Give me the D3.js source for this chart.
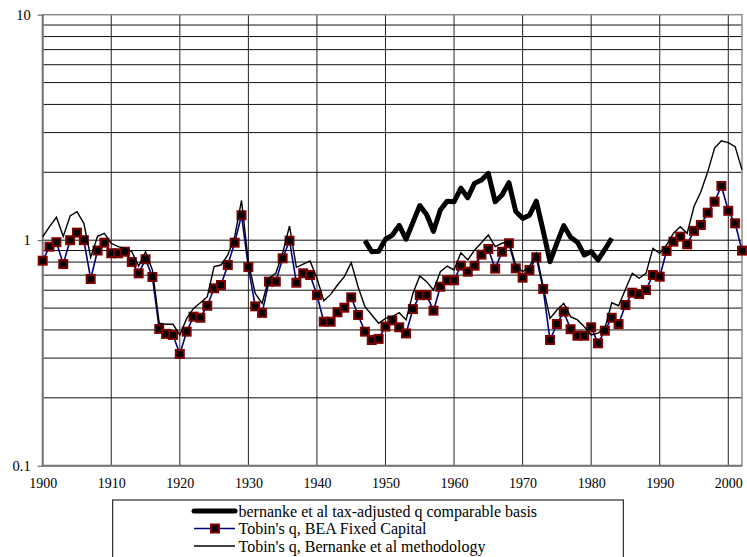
<!DOCTYPE html>
<html>
  <head>
    <meta charset="utf-8">
    <title>Tobin's q</title>
    <style media="screen">
    body{margin: 0; background: #fff}
    text {font-family: "Liberation Serif", "Times New Roman", serif; fill: #000}
    </style>
  </head>
  <body>

    <script src="https://d3js.org/d3.v7.min.js"></script>

    <script type="text/javascript">
      var w = 747, h = 557;

      // years 1900..2002
      var years = d3.range(1900, 2003);

      var beaQ = [
        0.811, 0.936, 0.98, 0.784, 1.0, 1.08, 1.0, 0.673, 0.90, 0.975,
        0.875, 0.875, 0.889, 0.80, 0.713, 0.823, 0.687, 0.404, 0.384, 0.38,
        0.313, 0.393, 0.458, 0.453, 0.512, 0.612, 0.633, 0.776, 0.975, 1.29,
        0.76, 0.509, 0.476, 0.655, 0.655, 0.831, 0.995, 0.648, 0.713, 0.701,
        0.571, 0.435, 0.435, 0.479, 0.502, 0.558, 0.466, 0.393, 0.361, 0.365,
        0.414, 0.441, 0.411, 0.386, 0.495, 0.571, 0.571, 0.487, 0.622, 0.664,
        0.664, 0.771, 0.725, 0.771, 0.863, 0.914, 0.748, 0.889, 0.969, 0.750,
        0.682, 0.738, 0.840, 0.608, 0.361, 0.425, 0.482, 0.403, 0.377, 0.377,
        0.411, 0.349, 0.397, 0.453, 0.425, 0.516, 0.585, 0.577, 0.601, 0.701,
        0.689, 0.896, 0.985, 1.037, 0.959, 1.10, 1.168, 1.324, 1.482, 1.74,
        1.35, 1.188, 0.899
      ];

      var bernQ = [
        1.036, 1.148, 1.263, 1.04, 1.28, 1.338, 1.188, 0.84, 1.04, 1.073,
        0.969, 0.936, 0.92, 0.889, 0.768, 0.889, 0.738, 0.428, 0.424, 0.424,
        0.38, 0.45, 0.498, 0.528, 0.561, 0.763, 0.776, 0.86, 1.036, 1.50,
        0.80, 0.581, 0.525, 0.678, 0.713, 0.875, 1.156, 0.758, 0.784, 0.809,
        0.678, 0.539, 0.575, 0.633, 0.689, 0.795, 0.622, 0.507, 0.466, 0.428,
        0.45, 0.458, 0.477, 0.443, 0.581, 0.694, 0.655, 0.601, 0.725, 0.768,
        0.738, 0.88, 0.817, 0.905, 0.975, 1.054, 0.936, 0.969, 0.985, 0.776,
        0.725, 0.763, 0.875, 0.622, 0.45, 0.49, 0.525, 0.458, 0.443, 0.413,
        0.38, 0.387, 0.407, 0.528, 0.512, 0.606, 0.713, 0.678, 0.713, 0.92,
        0.875, 0.952, 1.073, 1.148, 1.073, 1.41, 1.64, 2.01, 2.56, 2.76,
        2.71, 2.60, 2.05
      ];

      // tax-adjusted series, 1947..1983
      var taxYears = d3.range(1947, 1984);
      var taxQ = [
        0.995, 0.889, 0.893, 1.01, 1.054, 1.164, 1.01, 1.2, 1.425, 1.30,
        1.095, 1.36, 1.49, 1.48, 1.70, 1.544, 1.79, 1.85, 1.98, 1.48,
        1.586, 1.80, 1.34, 1.25, 1.29, 1.49, 1.10, 0.803, 0.97, 1.16,
        1.03, 0.98, 0.86, 0.89, 0.817, 0.91, 1.02
      ];

      var xTicks = d3.range(1900, 2001, 10);
      var yMajor = [0.1, 1, 10];
      var yLabels = ["0.1", "1", "10"];
      var yGrid = [0.2, 0.3, 0.4, 0.5, 0.6, 0.7, 0.8, 0.9, 1, 2, 3, 4, 5, 6, 7, 8, 9];

      var legendNames = [
        "bernanke et al tax-adjusted q comparable basis",
        "Tobin's q, BEA Fixed Capital",
        "Tobin's q, Bernanke et al methodology"
      ];

      var pLeft = 42.7, pRight = 742, pTop = 14.7, pBottom = 465.7;

      var x = d3.scaleLinear().domain([1900, 2002]).range([pLeft, pRight]);
      var y = d3.scaleLog().domain([0.1, 10]).range([pBottom, pTop]);

      var svg = d3.select('body').append('svg')
        .attr('width', w)
        .attr('height', h)

      svg.append('rect')
        .attr('x', pLeft).attr('y', pTop)
        .attr('width', pRight - pLeft).attr('height', pBottom - pTop)
        .attr('fill', '#fff')

      // grid
      svg.append('g').selectAll('line')
        .data(yGrid)
        .enter().append('line')
          .attr('x1', pLeft).attr('x2', pRight)
          .attr('y1', function(d){ return y(d) })
          .attr('y2', function(d){ return y(d) })
          .attr('stroke', '#111')
          .attr('stroke-width', 1)

      svg.append('g').selectAll('line')
        .data(xTicks.slice(1))
        .enter().append('line')
          .attr('x1', function(d){ return x(d) })
          .attr('x2', function(d){ return x(d) })
          .attr('y1', pTop).attr('y2', pBottom)
          .attr('stroke', '#222')
          .attr('stroke-width', 1)

      // plot border + axes
      svg.append('rect')
        .attr('x', pLeft).attr('y', pTop)
        .attr('width', pRight - pLeft).attr('height', pBottom - pTop)
        .attr('fill', 'none')
        .attr('stroke', '#8c8c8c')
        .attr('stroke-width', 1.5)

      svg.append('line')
        .attr('x1', pLeft).attr('x2', pLeft).attr('y1', pTop).attr('y2', pBottom)
        .attr('stroke', '#777').attr('stroke-width', 2)
      svg.append('line')
        .attr('x1', pLeft).attr('x2', pRight).attr('y1', pBottom).attr('y2', pBottom)
        .attr('stroke', '#777').attr('stroke-width', 2)

      var yAxis = d3.axisLeft(y)
        .tickValues(yMajor)
        .tickFormat(function(d, i){ return yLabels[i] })
        .tickSize(5)
        .tickPadding(7)

      var ga = svg.append('g')
        .attr('transform', 'translate(' + pLeft + ',0)')
        .call(yAxis)
      ga.select('.domain').remove()
      ga.selectAll('line').attr('stroke', '#555')
      ga.selectAll('text')
        .style('font-family', '"Liberation Serif", serif')
        .style('font-size', '14.5px')
        .attr('fill', '#000')

      var xAxis = d3.axisBottom(x)
        .tickValues(xTicks)
        .tickFormat(d3.format('d'))
        .tickSize(0)
        .tickPadding(12)

      var gx = svg.append('g')
        .attr('transform', 'translate(0,' + pBottom + ')')
        .call(xAxis)
      gx.select('.domain').remove()
      gx.selectAll('text')
        .style('font-family', '"Liberation Serif", serif')
        .style('font-size', '14px')
        .attr('fill', '#000')

      // series
      var line = d3.line()
        .x(function(d){ return x(d[0]) })
        .y(function(d){ return y(d[1]) })

      var taxPts = taxYears.map(function(yr, i){ return [yr, taxQ[i]] })
      var beaPts = years.map(function(yr, i){ return [yr, beaQ[i]] })
      var bernPts = years.map(function(yr, i){ return [yr, bernQ[i]] })

      svg.append('path')
        .attr('d', line(taxPts))
        .attr('fill', 'none')
        .attr('stroke', '#000')
        .attr('stroke-width', 5)
        .attr('stroke-linejoin', 'round')

      svg.append('path')
        .attr('d', line(beaPts))
        .attr('fill', 'none')
        .attr('stroke', '#000080')
        .attr('stroke-width', 1.6)

      svg.append('g').selectAll('rect')
        .data(beaPts)
        .enter().append('rect')
          .attr('x', function(d){ return x(d[0]) - 4 })
          .attr('y', function(d){ return y(d[1]) - 4 })
          .attr('width', 8).attr('height', 8)
          .attr('fill', '#000')
          .attr('stroke', '#800000')
          .attr('stroke-width', 2)

      svg.append('path')
        .attr('d', line(bernPts))
        .attr('fill', 'none')
        .attr('stroke', '#000')
        .attr('stroke-width', 1.4)

      // legend
      var lg = svg.append('g')
      lg.append('rect')
        .attr('x', 112.7).attr('y', 500)
        .attr('width', 510.6).attr('height', 70)
        .attr('fill', '#fff')
        .attr('stroke', '#000')
        .attr('stroke-width', 1)

      var rows = lg.selectAll('g.row')
        .data(legendNames)
        .enter().append('g')
          .attr('class', 'row')
          .attr('transform', function(d, i){ return 'translate(0,' + (511 + i * 17.5) + ')' })

      rows.append('line')
        .attr('x1', 194).attr('x2', 235)
        .attr('y1', 0).attr('y2', 0)
        .attr('stroke', function(d, i){ return i == 1 ? '#000080' : '#000' })
        .attr('stroke-width', function(d, i){ return i == 0 ? 5 : (i == 1 ? 1.6 : 1.4) })
        .attr('stroke-linecap', function(d, i){ return i == 0 ? 'round' : 'butt' })

      rows.filter(function(d, i){ return i == 1 })
        .append('rect')
          .attr('x', 211).attr('y', -4)
          .attr('width', 8).attr('height', 8)
          .attr('fill', '#000')
          .attr('stroke', '#800000')
          .attr('stroke-width', 2)

      rows.append('text')
        .attr('x', 238.5)
        .attr('y', 5.5)
        .style('font-size', '16px')
        .text(function(d){ return d })

    </script>

  </body>
</html>
